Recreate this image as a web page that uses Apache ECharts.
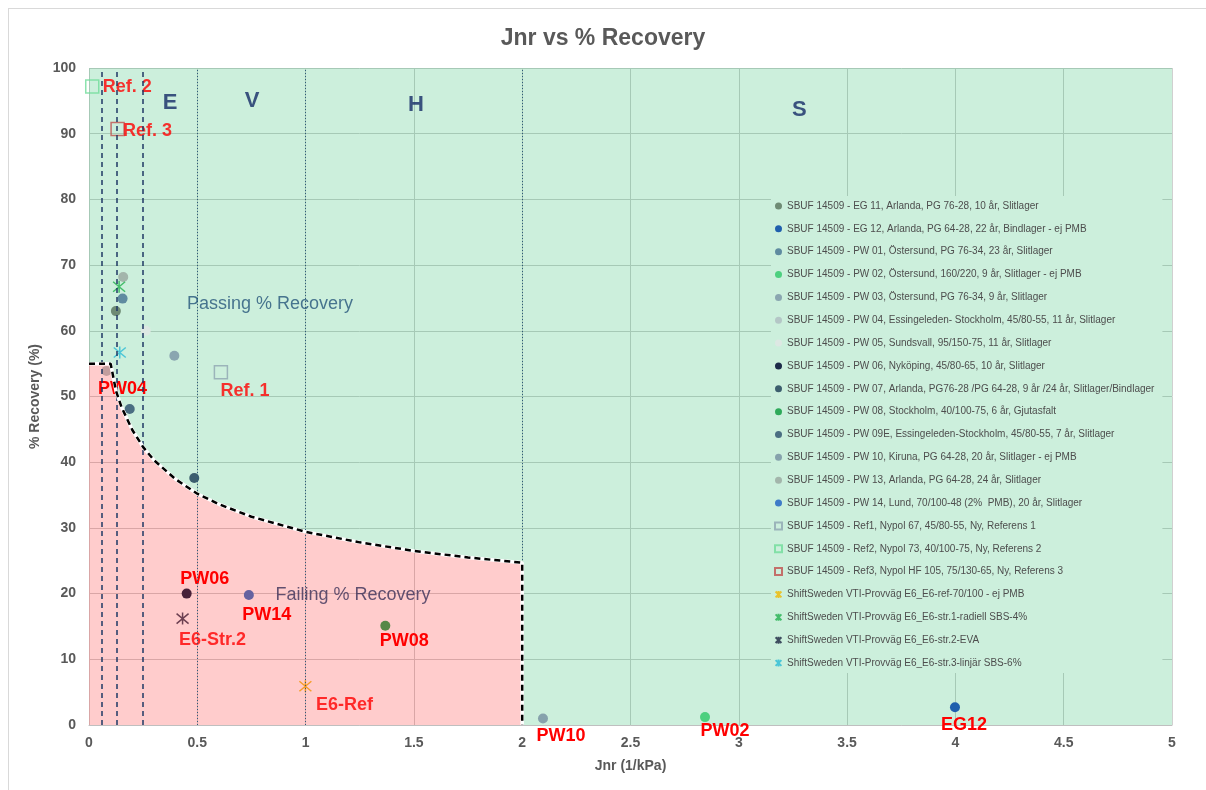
<!DOCTYPE html>
<html><head><meta charset="utf-8">
<script src="https://cdn.jsdelivr.net/npm/echarts@6/dist/echarts.min.js"></script>
<style>
html,body{margin:0;padding:0;background:#fff;overflow:hidden;width:1206px;height:790px}
#frame{position:absolute;left:8px;top:8px;width:1220px;height:800px;border:1px solid #D9D9D9;box-sizing:border-box}
#chart{position:absolute;left:0;top:0;width:1206px;height:790px}
</style>
</head><body><div id="frame"></div><div id="chart"></div>
<script>
// ---------- data ----------
const seriesNames = [
  'SBUF 14509 - EG 11, Arlanda, PG 76-28, 10 år, Slitlager',
  'SBUF 14509 - EG 12, Arlanda, PG 64-28, 22 år, Bindlager - ej PMB',
  'SBUF 14509 - PW 01, Östersund, PG 76-34, 23 år, Slitlager',
  'SBUF 14509 - PW 02, Östersund, 160/220, 9 år, Slitlager - ej PMB',
  'SBUF 14509 - PW 03, Östersund, PG 76-34, 9 år, Slitlager',
  'SBUF 14509 - PW 04, Essingeleden- Stockholm, 45/80-55, 11 år, Slitlager',
  'SBUF 14509 - PW 05, Sundsvall, 95/150-75, 11 år, Slitlager',
  'SBUF 14509 - PW 06, Nyköping, 45/80-65, 10 år, Slitlager',
  'SBUF 14509 - PW 07, Arlanda, PG76-28 /PG 64-28, 9 år /24 år, Slitlager/Bindlager',
  'SBUF 14509 - PW 08, Stockholm, 40/100-75, 6 år, Gjutasfalt',
  'SBUF 14509 - PW 09E, Essingeleden-Stockholm, 45/80-55, 7 år, Slitlager',
  'SBUF 14509 - PW 10, Kiruna, PG 64-28, 20 år, Slitlager - ej PMB',
  'SBUF 14509 - PW 13, Arlanda, PG 64-28, 24 år, Slitlager',
  'SBUF 14509 - PW 14, Lund, 70/100-48 (2%  PMB), 20 år, Slitlager',
  'SBUF 14509 - Ref1, Nypol 67, 45/80-55, Ny, Referens 1',
  'SBUF 14509 - Ref2, Nypol 73, 40/100-75, Ny, Referens 2',
  'SBUF 14509 - Ref3, Nypol HF 105, 75/130-65, Ny, Referens 3',
  'ShiftSweden VTI-Provväg E6_E6-ref-70/100 - ej PMB',
  'ShiftSweden VTI-Provväg E6_E6-str.1-radiell SBS-4%',
  'ShiftSweden VTI-Provväg E6_E6-str.2-EVA',
  'ShiftSweden VTI-Provväg E6_E6-str.3-linjär SBS-6%'
];
const jnrValues      = [0.124, 3.998, 0.155, 2.844, 0.394, 0.081, 0.262, 0.451, 0.486, 1.368, 0.188, 2.096, 0.158, 0.738, 0.609, 0.015, 0.132, 0.999, 0.139, 0.432, 0.142];
const recoveryValues = [63.0,  2.7,   64.9,  1.2,   56.2,  53.9,  60.0,  20.0,  37.6,  15.1,  48.1,  1.0,   68.2,  19.8,  53.7,  97.2,  90.7,  5.9,   66.7,  16.2,  56.7];
const pointLabels    = ['', 'EG12', '', 'PW02', '', 'PW04', '', 'PW06', '', 'PW08', '', 'PW10', '', 'PW14', 'Ref. 1', 'Ref. 2', 'Ref. 3', 'E6-Ref', '', 'E6-Str.2', ''];

const boundaryJnr = [0, 0.1, 0.125, 0.15, 0.2, 0.25, 0.3, 0.4, 0.5, 0.6, 0.75, 1.0, 1.25, 1.5, 1.75, 2.0, 2.0];
const boundaryRec = [55, 55, 50.8, 48.4, 44.9, 42.3, 40.3, 37.4, 35.2, 33.6, 31.7, 29.4, 27.8, 26.5, 25.5, 24.7, 0];

const gradeLimitsDashed = [0.0625, 0.125, 0.25];
const gradeLimitsDotted = [0.5, 1, 2];

const zoneLetters = ['E', 'V', 'H', 'S'];
const zoneLetterJnr = [0.374, 0.753, 1.51, 3.28];
const zoneLetterRec = [94.7, 95.0, 94.4, 93.6];
const zoneTexts = ['Passing % Recovery', 'Failing % Recovery'];
const zoneTextJnr = [0.836, 1.219];
const zoneTextRec = [64.1, 19.8];

const xTicks = { min: 0, max: 5, interval: 0.5 };
const yTicks = { min: 0, max: 100, interval: 10 };

// ---------- styles ----------
const seriesColors = ['#6E8B74', '#1F5FAD', '#5F8BA0', '#4DD07F', '#8AA6B0', '#B4C6C6', '#DDE8E3', '#1B2A48', '#3C5E6E', '#2EAA5A', '#4A6E82', '#86A2AC', '#A3B5AB', '#3E7BC8', '#8FA5B2', '#6FDC9A', '#C0504D', '#F0B800', '#22B04F', '#1A2440', '#2BBCD6'];
const seriesKinds  = ['c','c','c','c','c','c','c','c','c','c','c','c','c','c','sq','sq','sq','st','st','st','st'];
const labelOffsets = [null,[9,18],null,[20,14],null,[16,18],null,[18,-15],null,[19,15],null,[18,18],null,[18,20],[24,19],[35,1],[30,2],[39,19],null,[30,21],null];
const asterisk = 'path://M0,0L10,10M10,0L0,10M5,-1L5,11';

const FONT = 'Liberation Sans';
const grey = '#595959';

const pointSeries = seriesNames.map((name, i) => {
  const kind = seriesKinds[i];
  const c = seriesColors[i];
  const s = {
    name: name, type: 'scatter', z: 2,
    data: [[jnrValues[i], recoveryValues[i]]],
    symbol: kind === 'c' ? 'circle' : (kind === 'sq' ? 'rect' : asterisk),
    symbolSize: kind === 'c' ? 10 : (kind === 'sq' ? 13 : 12),
    itemStyle: kind === 'c' ? { color: c, opacity: 1 }
      : (kind === 'sq' ? { color: 'rgba(255,255,255,0)', borderColor: c, borderWidth: 1.5 }
        : { color: c, borderColor: c, borderWidth: 1.5 }),
    emphasis: { disabled: true }
  };
  if (pointLabels[i]) {
    s.label = {
      show: true, position: 'inside', offset: labelOffsets[i],
      formatter: pointLabels[i], color: '#FF0000', fontWeight: 'bold',
      fontSize: 18, fontFamily: FONT
    };
  }
  return s;
});

const boundaryData = boundaryJnr.map((x, i) => [x, boundaryRec[i]]);
const greenData = boundaryData.concat([[xTicks.max, 0]]);

const annotationData = zoneLetters.map((t, i) => ({
  value: [zoneLetterJnr[i], zoneLetterRec[i]],
  label: { formatter: t, fontSize: 22, fontWeight: 'bold', color: '#142A66' }
})).concat(zoneTexts.map((t, i) => ({
  value: [zoneTextJnr[i], zoneTextRec[i]],
  label: { formatter: t, fontSize: 18, color: i === 0 ? '#24557A' : '#3A2F58' }
})));

const markLines = gradeLimitsDashed.map(v => ({ xAxis: v, lineStyle: { color: '#1F3864', width: 1.5, type: [5, 4] } }))
  .concat(gradeLimitsDotted.map(v => ({ xAxis: v, lineStyle: { color: '#2E5A7A', width: 1, type: [1, 2] } })));

const option = {
  animation: false,
  textStyle: { fontFamily: FONT },
  title: {
    text: 'Jnr vs % Recovery', left: 'center', top: 22,
    textStyle: { fontSize: 23, fontWeight: 'bold', color: grey, fontFamily: FONT }
  },
  grid: { left: 89, right: 34, top: 68, bottom: 65, containLabel: false },
  xAxis: {
    type: 'value', min: xTicks.min, max: xTicks.max, interval: xTicks.interval,
    name: 'Jnr (1/kPa)', nameLocation: 'middle', nameGap: 34,
    nameTextStyle: { fontSize: 14, fontWeight: 'bold', color: grey, fontFamily: FONT },
    axisLine: { show: true, lineStyle: { color: '#BFBFBF', width: 1 } },
    axisTick: { show: false },
    axisLabel: { color: grey, fontWeight: 'bold', fontSize: 14, margin: 11, fontFamily: FONT },
    splitLine: { show: true, lineStyle: { color: '#D0D0D0', width: 1 } }
  },
  yAxis: {
    type: 'value', min: yTicks.min, max: yTicks.max, interval: yTicks.interval,
    name: '% Recovery (%)', nameLocation: 'middle', nameGap: 42, nameRotate: 90,
    nameTextStyle: { fontSize: 14, fontWeight: 'bold', color: grey, fontFamily: FONT },
    axisLine: { show: false },
    axisTick: { show: false },
    axisLabel: { color: grey, fontWeight: 'bold', fontSize: 14, margin: 13, fontFamily: FONT },
    splitLine: { show: true, lineStyle: { color: '#D0D0D0', width: 1 } }
  },
  legend: {
    orient: 'vertical', left: 771, top: 196, z: 10,
    data: seriesNames,
    itemWidth: 7, itemHeight: 7, itemGap: 10.85,
    backgroundColor: '#CCEFDC', padding: [4, 8, 4, 3],
    textStyle: { fontSize: 10, color: '#4D4D4D', lineHeight: 12, fontFamily: FONT },
    selectedMode: false
  },
  series: [
    {
      name: 'passArea', type: 'line', z: 1, silent: true, showSymbol: false,
      data: greenData, lineStyle: { width: 0 },
      areaStyle: { color: 'rgba(0,176,80,0.2)', origin: 'end', opacity: 1 }
    },
    ...pointSeries,
    {
      name: 'failArea', type: 'line', z: 3, silent: true, showSymbol: false,
      data: boundaryData, lineStyle: { width: 0 },
      areaStyle: { color: 'rgba(255,0,0,0.2)', origin: 'start', opacity: 1 },
      markLine: { silent: true, symbol: 'none', label: { show: false }, data: markLines, animation: false }
    },
    {
      name: 'boundaryWhite', type: 'line', z: 5, silent: true, showSymbol: false,
      data: boundaryData, lineStyle: { color: '#FFFFFF', width: 3.5 }
    },
    {
      name: 'boundaryDash', type: 'line', z: 6, silent: true, showSymbol: false,
      data: boundaryData, lineStyle: { color: '#000000', width: 2.5, type: [6, 4] }
    },
    {
      name: 'annotations', type: 'scatter', z: 7, silent: true, symbolSize: 0,
      data: annotationData,
      label: { show: true, position: 'inside', fontFamily: FONT }
    }
  ]
};

const chart = echarts.init(document.getElementById('chart'), null, { renderer: 'canvas' });
chart.setOption(option);
</script></body></html>
